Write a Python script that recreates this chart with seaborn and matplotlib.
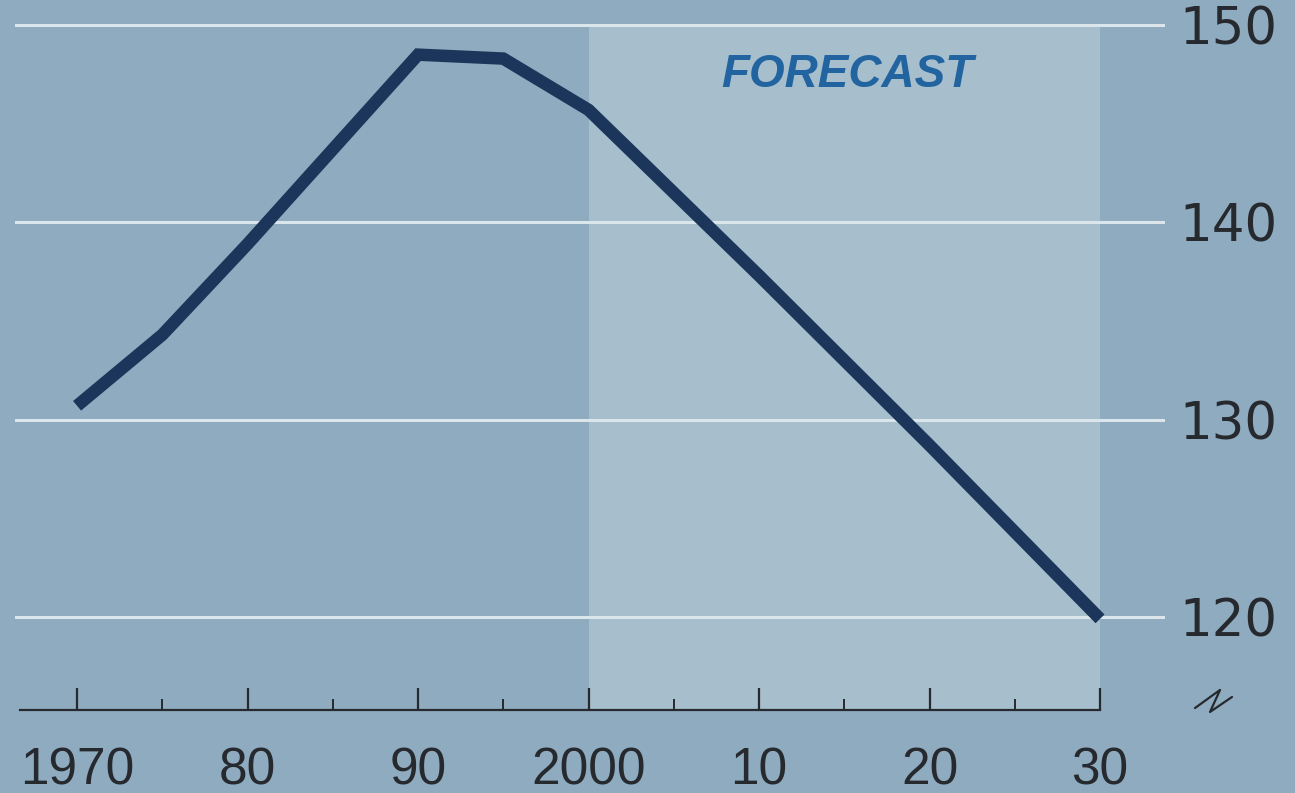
import numpy as np
import pandas as pd
import matplotlib
matplotlib.use("Agg")
import matplotlib.pyplot as plt
import seaborn as sns

# ─── Data ────────────────────────────────────────────────────
years = [1970, 1975, 1980, 1985, 1990, 1995, 2000, 2005, 2010, 2015, 2020, 2025, 2030]
values = [130.7, 134.3, 138.9, 143.7, 148.5, 148.3, 145.7, 141.5, 137.3, 133.0, 128.7, 124.3, 119.9]

y_ticks = [120, 130, 140, 150]
x_major = [1970, 1980, 1990, 2000, 2010, 2020, 2030]
x_labels = ["1970", "80", "90", "2000", "10", "20", "30"]
x_minor = [1975, 1985, 1995, 2005, 2015, 2025]

forecast_start, forecast_end = 2000, 2030
forecast_label = "FORECAST"

# ─── Style ───────────────────────────────────────────────────
BG = "#8fabc0"
FC_BG = "#a7becc"
LINE = "#1b365a"
GRID = "#dbe5ec"
TXT = "#262a2e"

sns.set_theme(style="white")
plt.rcParams["font.family"] = ["Liberation Sans", "DejaVu Sans"]

df = pd.DataFrame({"year": years, "value": values})

fig = plt.figure(figsize=(12.95, 7.93), dpi=100, facecolor=BG)
ax = fig.add_axes([15 / 1295, 83 / 793, 1150 / 1295, 710 / 793])
ax.set_facecolor(BG)

ax.set_xlim(1966.36, 2033.81)
ax.set_ylim(115.28, 151.27)

# forecast shading
ax.fill_between([forecast_start, forecast_end], ax.get_ylim()[0], max(y_ticks),
                color=FC_BG, lw=0, zorder=0)

# gridlines
for yv in y_ticks:
    ax.axhline(yv, color=GRID, lw=2.2, zorder=1)

sns.lineplot(data=df, x="year", y="value", ax=ax, color=LINE, lw=9,
             solid_capstyle="butt", solid_joinstyle="miter", zorder=3)

ax.text(2015.15, 147.45, forecast_label, color="#2264a0", fontsize=33,
        fontweight="bold", style="italic", ha="center", va="center")

# axes styling
for s in ["top", "left", "right"]:
    ax.spines[s].set_visible(False)
ax.spines["bottom"].set_color(TXT)
ax.spines["bottom"].set_linewidth(1.6)
ax.spines["bottom"].set_bounds(1966.65, forecast_end)

ax.set_xticks(x_major)
ax.set_xticklabels(x_labels)
ax.set_xticks(x_minor, minor=True)
ax.tick_params(axis="x", which="major", direction="in", length=16, width=1.6,
               color=TXT, labelsize=37, labelcolor=TXT, pad=26, bottom=True)
ax.tick_params(axis="x", which="minor", direction="in", length=8, width=1.4,
               color=TXT, bottom=True)

ax.yaxis.tick_right()
ax.set_yticks(y_ticks)
ax.tick_params(axis="y", length=0, labelsize=37, labelcolor=TXT, pad=10)
for lab in ax.get_yticklabels():
    lab.set_fontfamily("DejaVu Sans")

ax.set_xlabel("")
ax.set_ylabel("")

# axis break mark
bx, by = 2036.65, 115.75
ax.plot([bx - 1.08, bx + 0.39, bx - 0.2, bx + 1.09],
        [by - 0.37, by + 0.55, by - 0.57, by + 0.19],
        color=TXT, lw=1.6, clip_on=False)

plt.savefig("out.png", dpi=100, facecolor=BG)
